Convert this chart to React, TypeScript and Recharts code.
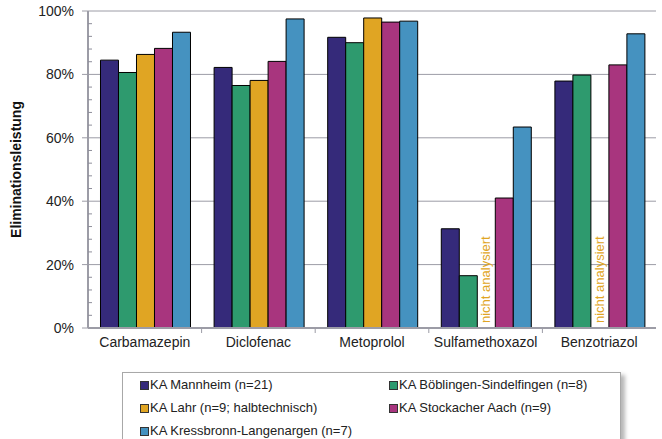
import { BarChart, Bar, XAxis, YAxis, CartesianGrid, Rectangle } from "recharts";

const categories = ["Carbamazepin", "Diclofenac", "Metoprolol", "Sulfamethoxazol", "Benzotriazol"];
const mannheim = [84.5, 82.2, 91.7, 31.3, 77.9];
const boeblingen = [80.6, 76.5, 90.0, 16.5, 79.8];
const lahr: (number | null)[] = [86.3, 78.1, 97.8, null, null];
const stockach = [88.2, 84.1, 96.5, 41.0, 83.0];
const kressbronn = [93.3, 97.5, 96.8, 63.4, 92.8];

const seriesKeys = ["mannheim", "boeblingen", "lahr", "stockach", "kressbronn"];
const seriesNames = [
  "KA Mannheim (n=21)",
  "KA Böblingen-Sindelfingen (n=8)",
  "KA Lahr (n=9; halbtechnisch)",
  "KA Stockacher Aach (n=9)",
  "KA Kressbronn-Langenargen (n=7)",
];
const seriesColors = ["#352a7a", "#2e9a6e", "#e0a523", "#a8357e", "#4592c0"];

const majorTicks = [0, 20, 40, 60, 80, 100];
const allTicks = [0, 4, 8, 12, 16, 20, 24, 28, 32, 36, 40, 44, 48, 52, 56, 60, 64, 68, 72, 76, 80, 84, 88, 92, 96, 100];
const naText = "nicht analysiert";

// missing Lahr values: empty slot with a note instead of a bar
const data = categories.map((name, i) => ({
  name,
  mannheim: mannheim[i],
  boeblingen: boeblingen[i],
  lahr: lahr[i] ?? 0,
  lahrNote: lahr[i] == null ? naText : "",
  stockach: stockach[i],
  kressbronn: kressbronn[i],
}));

const FONT = "'Liberation Sans', Arial, sans-serif";
const AXIS = "#9c9ca6";

function YTick(props: any) {
  const { x, y, payload } = props;
  const v = payload.value;
  if (majorTicks.includes(v)) {
    return (
      <g>
        <line x1={x - 6} x2={x} y1={y} y2={y} stroke={AXIS} />
        <text x={x - 14} y={y} dy={5} textAnchor="end" fontSize={14} fill="#222" fontFamily={FONT}>
          {v}%
        </text>
      </g>
    );
  }
  return <line x1={x} x2={x + 4} y1={y} y2={y} stroke="#8e8e9a" />;
}

function XTick(props: any) {
  const { x, y, payload, index, width } = props;
  const half = payload.offset || width / categories.length / 2;
  return (
    <g>
      <text x={x} y={y} dy={19} textAnchor="middle" fontSize={14} fill="#222" fontFamily={FONT}>
        {payload.value}
      </text>
      {index < categories.length - 1 && (
        <line x1={x + half} x2={x + half} y1={y} y2={y + 5} stroke={AXIS} />
      )}
    </g>
  );
}

function LahrShape(props: any) {
  const note = props.payload?.lahrNote;
  if (!note) return <Rectangle {...props} />;
  const cx = props.x + props.width / 2;
  const by = props.y + props.height - 5;
  return (
    <text
      x={cx}
      y={by}
      transform={`rotate(-90, ${cx}, ${by})`}
      dy={4}
      textAnchor="start"
      fontSize={13}
      fill="#e0a523"
      stroke="none"
      fontFamily={FONT}
    >
      {note}
    </text>
  );
}

function YTitle(props: any) {
  const { viewBox } = props;
  const cy = viewBox.y + viewBox.height / 2;
  const cx = 16;
  return (
    <text
      x={cx}
      y={cy}
      transform={`rotate(-90, ${cx}, ${cy})`}
      dy={5}
      textAnchor="middle"
      fontSize={14}
      fontWeight="bold"
      fill="#111"
      fontFamily={FONT}
    >
      Eliminationsleistung
    </text>
  );
}

export default function App() {
  return (
    <div style={{ position: "absolute", left: 0, top: 0, width: 662, height: 439, overflow: "hidden", background: "#fff" }}>
      <BarChart
        width={662}
        height={439}
        data={data}
        margin={{ top: 11, right: 6, bottom: 81, left: 0 }}
        barCategoryGap="11%"
        barGap={0}
      >
        <CartesianGrid vertical={false} horizontalValues={majorTicks} stroke={AXIS} />
        <XAxis
          dataKey="name"
          height={30}
          axisLine={{ stroke: AXIS, strokeWidth: 2 }}
          tickLine={false}
          tickSize={0}
          tickMargin={0}
          interval={0}
          tick={<XTick />}
        />
        <YAxis
          width={88}
          domain={[0, 100]}
          ticks={allTicks}
          interval={0}
          minTickGap={0}
          axisLine={{ stroke: AXIS, strokeWidth: 2 }}
          tickLine={false}
          tickSize={0}
          tickMargin={0}
          tick={<YTick />}
          label={<YTitle />}
        />
        {seriesKeys.map((k, i) => (
          <Bar
            key={k}
            dataKey={k}
            name={seriesNames[i]}
            fill={seriesColors[i]}
            stroke="#000"
            strokeWidth={1}
            isAnimationActive={false}
            shape={k === "lahr" ? <LahrShape /> : undefined}
          />
        ))}
      </BarChart>
      <div
        style={{
          position: "absolute",
          left: 122,
          top: 372,
          width: 499,
          height: 90,
          border: "1px solid #a8a8a8",
          boxShadow: "4px 3px 4px #b8b8b8",
          background: "#fff",
          fontFamily: FONT,
          fontSize: 13,
          color: "#222",
          boxSizing: "border-box",
        }}
      >
        {seriesNames.map((n, i) => (
          <div
            key={n}
            style={{
              position: "absolute",
              left: i % 2 === 0 ? 17 : 266,
              top: 4 + Math.floor(i / 2) * 23,
              display: "flex",
              alignItems: "center",
              whiteSpace: "nowrap",
              lineHeight: "16px",
            }}
          >
            <span
              style={{
                display: "inline-block",
                width: 7,
                height: 7,
                background: seriesColors[i],
                border: "1px solid #333",
                marginRight: 1,
              }}
            />
            {n}
          </div>
        ))}
      </div>
    </div>
  );
}
